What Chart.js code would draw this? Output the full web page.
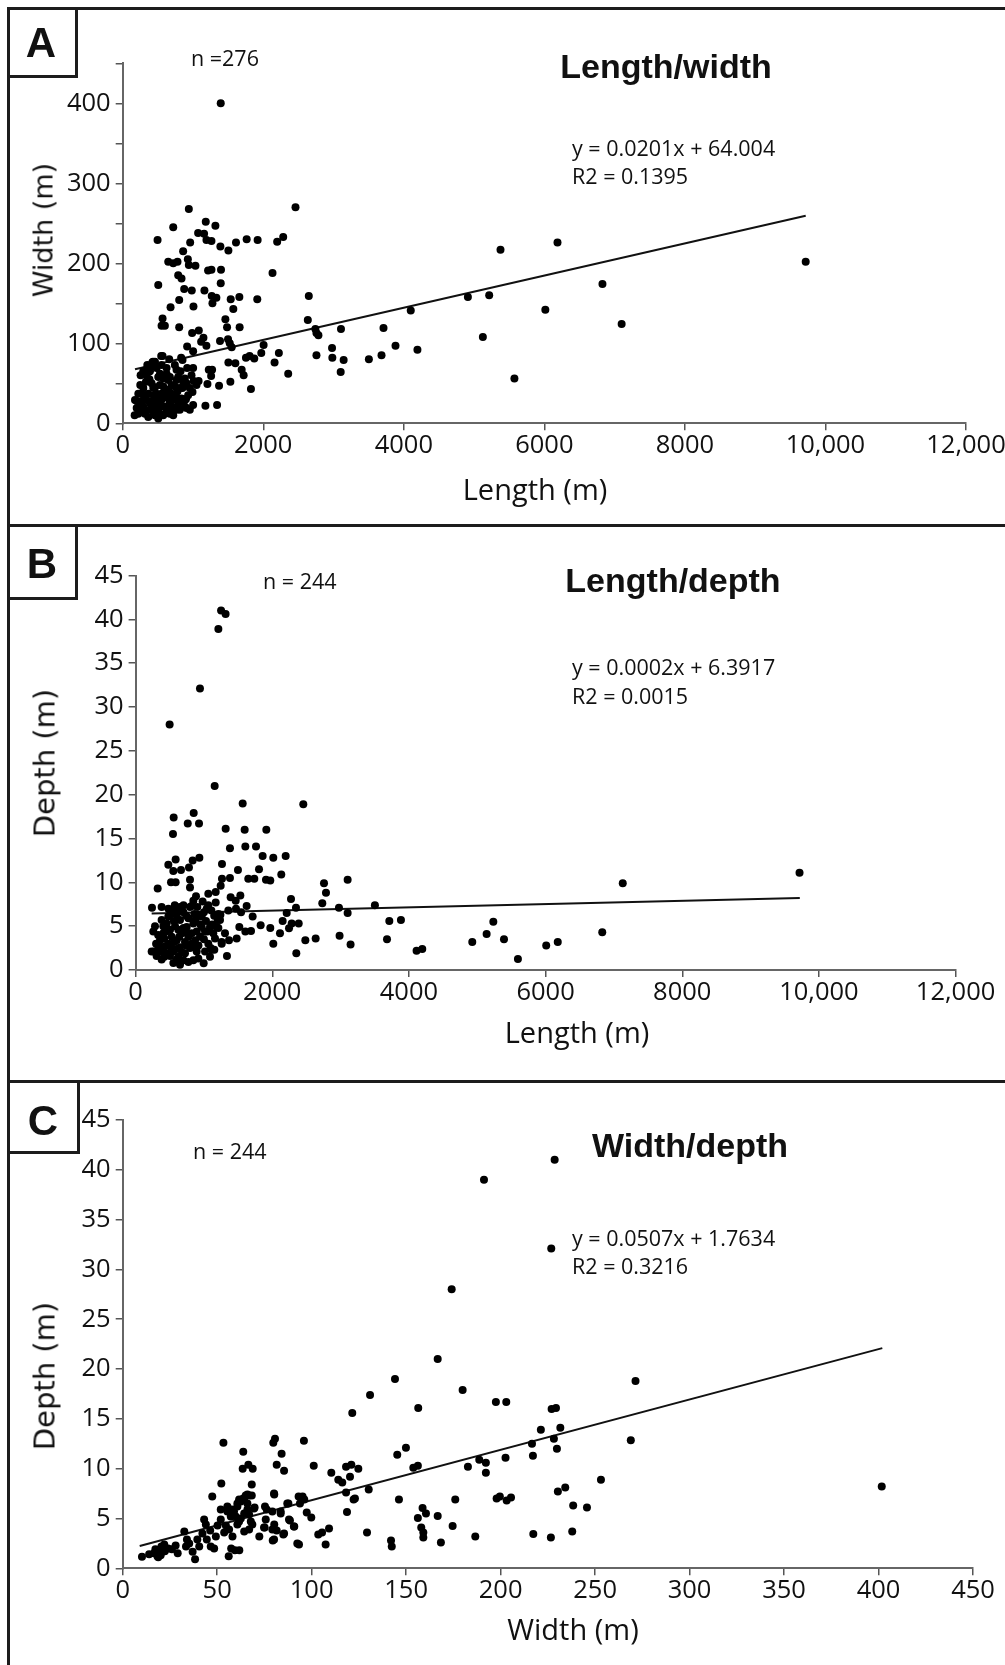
<!DOCTYPE html>
<html>
<head>
<meta charset="utf-8">
<script src="https://cdn.jsdelivr.net/npm/chart.js@4.4.1/dist/chart.umd.min.js"></script>
<style>
body { margin: 0; background: #fff; }
#fig { position: relative; width: 1005px; height: 1665px; overflow: hidden; background: #fff; }
canvas { position: absolute; left: 0; }
.t { position: absolute; white-space: nowrap; color: #111; line-height: 1; }
.c { transform: translate(-50%, -50%); }
.l { transform: translateY(-50%); }
.rot { transform: translate(-50%, -50%) rotate(-90deg); font-family: "DejaVu Sans"; font-size: 28px; }
.ttl { font-family: "Liberation Sans", Arial; font-weight: bold; font-size: 34px; }
.xt { font-family: "Open Sans"; font-size: 29px; }
.note { font-family: "Open Sans"; font-size: 21.5px; }
.let { font-family: "Liberation Sans", Arial; font-weight: bold; font-size: 42px; }
.ln { position: absolute; background: #1c1c1c; }
</style>
</head>
<body>
<div id="fig">
  <canvas id="cA" width="1005" height="526" style="top:0"></canvas>
  <canvas id="cB" width="1005" height="556" style="top:526px"></canvas>
  <canvas id="cC" width="1005" height="583" style="top:1082px"></canvas>

  <!-- frame and separators -->
  <div class="ln" style="left:7px;top:7px;width:998px;height:3px"></div>
  <div class="ln" style="left:7px;top:7px;width:3px;height:1658px"></div>
  <div class="ln" style="left:7px;top:524px;width:998px;height:3px"></div>
  <div class="ln" style="left:7px;top:1080px;width:998px;height:3px"></div>
  <!-- letter boxes -->
  <div class="ln" style="left:75px;top:7px;width:3px;height:71px"></div>
  <div class="ln" style="left:7px;top:75px;width:71px;height:3px"></div>
  <div class="ln" style="left:75px;top:524px;width:3px;height:76px"></div>
  <div class="ln" style="left:7px;top:597px;width:71px;height:3px"></div>
  <div class="ln" style="left:77px;top:1080px;width:3px;height:74px"></div>
  <div class="ln" style="left:7px;top:1151px;width:73px;height:3px"></div>

  <div class="t c let" style="left:41px;top:43px">A</div>
  <div class="t c let" style="left:42px;top:564px">B</div>
  <div class="t c let" style="left:43px;top:1121px">C</div>

  <!-- panel A texts -->
  <div class="t l note" style="left:191px;top:58px">n =276</div>
  <div class="t c ttl" style="left:666px;top:66px">Length/width</div>
  <div class="t l note" style="left:572px;top:148px">y = 0.0201x + 64.004</div>
  <div class="t l note" style="left:572px;top:176px">R2 = 0.1395</div>
  <div class="t c xt" style="left:535px;top:488px">Length (m)</div>
  <div class="t rot" style="left:43px;top:230px;font-size:27px">Width (m)</div>

  <!-- panel B texts -->
  <div class="t l note" style="left:263px;top:581px">n = 244</div>
  <div class="t c ttl" style="left:673px;top:580px">Length/depth</div>
  <div class="t l note" style="left:572px;top:667px">y = 0.0002x + 6.3917</div>
  <div class="t l note" style="left:572px;top:696px">R2 = 0.0015</div>
  <div class="t c xt" style="left:577px;top:1031px">Length (m)</div>
  <div class="t rot" style="left:45px;top:763px;font-size:29px">Depth (m)</div>

  <!-- panel C texts -->
  <div class="t l note" style="left:193px;top:1151px">n = 244</div>
  <div class="t c ttl" style="left:690px;top:1145px">Width/depth</div>
  <div class="t l note" style="left:572px;top:1238px">y = 0.0507x + 1.7634</div>
  <div class="t l note" style="left:572px;top:1266px">R2 = 0.3216</div>
  <div class="t c xt" style="left:573px;top:1628px">Width (m)</div>
  <div class="t rot" style="left:45px;top:1376px;font-size:29px">Depth (m)</div>
</div>

<script>
'use strict'

// A: length (m) vs width (m)
var ptsA = [
  [1395,400],[941,268],[2459,270],[1182,252],[1319,247],[719,245],[1073,238],[1158,237],[1192,229],[1263,228],
  [496,229],[960,226],[1390,221],[1504,216],[1612,226],[1764,230],[1920,229],[2198,227],[2284,233],[5376,217],
  [860,215],[648,202],[719,200],[780,202],[927,205],[941,198],[1035,197],[1215,191],[1263,192],[1399,192],
  [2132,188],[790,185],[837,181],[1395,175],[506,173],[875,168],[983,166],[1163,166],[1267,159],[1333,157],
  [1277,150],[1537,155],[1660,158],[1915,155],[2648,159],[4912,158],[5215,160],[804,154],[681,145],[1007,146],
  [1574,143],[4099,141],[567,131],[553,122],[600,122],[804,120],[1461,130],[1485,120],[1664,120],[2634,129],
  [988,113],[1083,116],[1149,107],[1385,103],[1499,105],[1523,100],[1551,95],[2742,118],[2785,110],[2757,113],
  [3106,118],[3711,119],[5125,108],[917,96],[1002,90],[1191,97],[2005,98],[1972,88],[2222,88],[2979,94],
  [3882,97],[4194,92],[2757,85],[2983,82],[3144,79],[3503,80],[3683,85],[1754,82],[1806,84],[1872,81],
  [1504,76],[1603,75],[2161,76],[567,84],[662,80],[1693,67],[1225,67],[1272,67],[1258,59],[1721,60],
  [2355,62],[3102,64],[1532,52],[1371,47],[1206,49],[1825,43],[5574,56],[1177,22],[1343,23],[9719,202],
  [7100,124],[6827,174],[6014,142],[6187,226],[832,82],[1116,102],[1010,53],[1080,53],
  [170,10],[199,19],[293,21],[270,37],[331,52],[350,73],[421,76],[255,60],[388,65],[482,69],
  [530,62],[624,69],[766,67],[851,79],[823,65],[917,69],[1002,69],[979,60],[1050,48],[993,39],
  [908,50],[808,44],[742,35],[671,27],[884,21],[813,17],[719,19],[530,12],[435,15],[388,25],
  [482,37],[577,46],[435,44],[648,54],[530,48],[340,29],[600,21],[482,19],[317,12],[695,37],
  [766,54],[600,33],[790,25],[388,17],[246,27],[222,12],[530,29],[411,50],[293,44],[364,37],
  [506,58],[577,56],[671,58],[860,52],[931,35],[742,46],[671,12],[766,17],[459,10],[553,21],
  [648,42],[340,60],[293,65],[837,31],[482,25],[577,10],[719,10],[908,19],[1002,23],[955,17],
  [175,29],[222,37],[411,21],[624,17],[293,17],[364,8],[506,6],[435,29],[553,37],[695,48],
  [624,62],[553,73],[459,77],[742,73],[884,56],[790,58],[955,44],[766,33],[860,27],[217,18],
  [430,77],[407,72],[312,66],[548,84],[250,48],[300,30],[380,55],[460,45],[520,22],[560,30],
  [620,40],[690,22],[720,30],[780,40],[850,44],[900,30],[200,28],[450,35],[650,32]
];
var trendA = [[175,67.5],[9719,259.4]];

// B: length (m) vs depth (m)
var ptsB = [
  [1251,41.0],[1317,40.6],[1211,38.9],[942,32.1],[498,28.0],[1157,21.0],[1567,19.0],[2454,18.9],[850,17.9],[557,17.4],
  [763,16.7],[928,16.7],[1318,16.1],[1596,16.0],[1913,16.0],[547,15.5],[1381,13.9],[1606,14.1],[1762,14.1],[1859,13.0],
  [2015,12.8],[2196,13.0],[586,12.6],[835,12.5],[933,12.8],[479,12.0],[781,11.7],[1264,12.1],[552,11.3],[664,11.4],
  [1498,11.4],[1806,11.5],[2132,10.9],[518,10.0],[586,10.0],[796,10.3],[796,9.4],[1381,10.5],[1649,10.4],[1737,10.4],
  [1908,10.3],[1971,10.2],[2757,9.9],[2786,8.8],[3103,10.3],[323,9.3],[884,8.4],[1064,8.7],[1172,8.9],[1245,9.6],
  [1264,10.4],[1391,8.3],[1465,7.9],[1533,8.5],[2274,8.1],[981,7.8],[1172,7.7],[1625,7.3],[2732,7.6],[2347,7.1],
  [2976,7.1],[3502,7.4],[3103,6.5],[2211,6.5],[240,7.1],[381,7.2],[573,7.4],[601,6.8],[650,7.2],[820,7.3],
  [903,7.2],[1357,6.8],[1469,7.0],[1543,6.6],[1713,6.1],[2284,5.3],[2387,5.3],[2152,5.6],[3713,5.6],[3883,5.7],
  [5235,5.5],[1830,5.1],[1971,4.8],[1518,4.9],[2113,4.2],[2245,4.75],[5137,4.1],[4927,3.2],[5391,3.5],[3679,3.5],
  [2985,3.9],[3146,2.9],[2635,3.6],[2484,3.4],[2015,3.0],[1606,4.4],[1689,4.45],[1479,3.6],[1367,3.4],[1259,3.2],
  [2352,1.9],[1337,1.6],[4112,2.2],[4195,2.4],[5595,1.25],[996,0.76],[1098,2.5],[1152,2.3],[1016,2.1],[9716,11.1],
  [7129,9.9],[6829,4.3],[6178,3.2],[6009,2.8],[1064,7.4],[845,7.9],[1201,5.7],[1187,4.9],[1308,4.2],[1241,6.3],
  [1109,6.8],[1050,4.4],
  [259,4.4],[235,2.1],[308,1.6],[381,1.2],[406,2.4],[406,4.2],[357,3.4],[455,5.3],[504,6.3],[553,6.9],
  [577,5.0],[528,3.8],[479,3.0],[455,1.9],[553,2.1],[626,1.5],[699,1.1],[772,0.9],[650,2.6],[723,3.2],
  [675,4.2],[650,5.7],[699,6.6],[796,7.2],[772,5.9],[845,5.3],[821,4.2],[870,3.4],[796,2.5],[894,2.1],
  [845,1.1],[943,3.8],[967,4.9],[967,6.1],[1040,7.0],[1089,4.9],[1064,3.0],[1113,2.3],[1162,3.6],[1211,4.8],
  [1235,5.7],[1211,6.4],[1260,3.0],[284,5.0],[333,2.7],[269,2.1],[430,2.7],[504,1.6],[601,3.4],[626,4.6],
  [406,5.0],[504,4.6],[723,1.9],[894,4.4],[918,6.3],[479,6.1],[381,5.7],[772,3.8],[748,4.9],[601,6.3],
  [675,7.1],[1016,4.4],[1137,4.2],[553,0.8],[918,1.3],[1089,1.5],[650,0.6],
  [330,4.0],[360,2.1],[420,3.6],[450,4.4],[520,2.6],[560,3.2],[600,2.4],[640,3.8],[680,2.0],[700,4.8],
  [740,2.8],[760,4.2],[820,3.0],[860,2.6],[880,5.8],[920,2.8],[950,5.2],[1000,3.5],[1030,5.6],[1120,5.2],
  [480,7.0],[700,7.4],[560,5.6],[300,3.0],[420,1.5],[600,1.2],[860,6.4],[1000,6.6],[740,6.2],[1150,6.2]
];
var trendB = [[235,6.44],[9720,8.2]];

// C: width (m) vs depth (m)
var ptsC = [
  [228.6,41.0],[191.2,39.0],[226.8,32.1],[174.1,28.0],[166.7,21.0],[271.4,18.8],[179.9,17.9],[197.5,16.7],[203.0,16.7],[156.4,16.1],
  [227.0,16.0],[229.3,16.1],[221.3,13.9],[231.6,14.1],[149.9,12.1],[268.9,12.85],[216.6,12.5],[217.1,11.3],[228.2,13.0],[229.8,12.0],
  [202.6,11.1],[153.8,10.1],[156.2,10.3],[182.7,10.2],[188.7,10.9],[192.2,10.6],[192.2,9.6],[253.1,8.9],[401.7,8.2],[234.2,8.1],
  [230.3,7.7],[197.9,7.0],[199.6,7.2],[203.2,6.8],[205.5,7.1],[176.0,6.9],[238.4,6.3],[245.7,6.1],[158.7,6.05],[160.5,5.5],
  [156.2,5.05],[166.7,5.25],[174.6,4.25],[158.0,4.1],[159.1,3.6],[159.1,3.1],[168.4,2.6],[186.6,3.2],[217.3,3.45],[226.6,3.1],
  [237.9,3.7],[144.1,19.0],[130.9,17.4],[121.5,15.6],[145.3,11.4],
  [53.3,12.6],[79.7,12.6],[80.6,13.0],[95.9,12.8],[63.8,11.7],[84.1,11.5],[63.5,10.0],[66.5,10.4],[68.8,10.0],[81.5,10.4],
  [85.4,9.8],[101.1,10.3],[110.4,9.6],[114.1,8.9],[116.2,8.6],[118.2,10.2],[121.0,10.4],[124.7,10.0],[120.3,9.2],[52.2,8.5],
  [68.3,8.4],[146.2,6.9],[130.2,7.9],[122.2,6.9],[122.9,7.0],[118.2,7.6],[80.2,7.4],[47.4,7.2],[95.2,7.2],[96.1,6.9],
  [75.3,6.2],[76.2,5.9],[69.8,6.1],[66.0,5.9],[61.6,6.9],[63.8,7.0],[66.0,7.4],[68.3,7.3],[60.7,6.5],[55.4,6.2],
  [57.7,5.9],[87.7,6.5],[93.1,7.2],[93.8,6.5],[97.4,5.6],[99.8,5.1],[83.6,5.5],[88.5,4.8],[90.8,4.2],[93.3,2.4],
  [75.1,4.1],[80.2,4.4],[81.5,3.8],[85.0,3.4],[72.3,3.2],[79.4,2.8],[103.5,3.4],[105.5,3.6],[107.4,2.4],[109.2,4.0],
  [118.7,5.65],[129.3,3.6],[142.0,2.8],[142.4,2.2],[56.1,1.2],[59.4,1.8],[61.7,1.8],
  [10.2,1.17],[16.6,1.5],[18.4,1.2],[20.1,1.3],[22.3,1.7],[24.0,2.0],[17.3,1.9],[20.5,2.2],[18.8,1.1],[29.1,1.5],
  [33.5,2.2],[34.0,2.9],[32.6,3.7],[37.0,1.67],[38.3,0.9],[35.2,2.5],[39.5,2.9],[42.2,3.5],[40.5,2.2],[43.1,4.9],
  [44.0,4.4],[44.5,2.9],[46.6,2.2],[48.4,2.0],[46.3,3.8],[50.2,4.3],[51.9,4.9],[49.3,3.2],[53.7,3.6],[56.3,3.9],
  [54.6,4.3],[58.1,3.2],[55.4,5.7],[57.2,5.2],[58.9,5.7],[59.8,5.2],[51.9,5.9],[60.7,6.2],[62.5,6.7],[64.3,7.0],
  [66.9,7.3],[65.1,7.3],[66.0,6.5],[57.4,2.0],[60.7,4.4],[62.5,5.0],[64.3,5.5],[66.9,5.4],[67.8,4.7],[68.6,4.4],
  [66.9,3.9],[61.6,4.7],[64.3,3.7],[69.5,6.0],[74.8,4.1],[80.1,2.9],[79.2,3.9],[75.7,4.9],[79.2,5.7],[80.1,7.5],
  [83.6,5.7],[85.4,3.5],[87.1,6.5],[88.0,4.9],[90.6,4.2],[92.4,2.5],[22,2.4],[26,1.9],[28,2.3],[14,1.4],[19,1.6]
];
var trendC = [[9,2.24],[402,22.1]];

// tick labels
var xTicksLen = ['0','2000','4000','6000','8000','10,000','12,000'];
var yTicksWidth = ['0','','100','','200','','300','','400',''];
var yTicksDepth = ['0','5','10','15','20','25','30','35','40','45'];
var xTicksWidth = ['0','50','100','150','200','250','300','350','400','450'];

var tickFont = { family: 'Open Sans', size: 25.5 };
var Y_W = 60;

function drawPanel(id, pts, trend, sx, sy, area) {
	var canvas = document.getElementById(id);
	var h = canvas.height;
	return new Chart(canvas, {
		type: 'scatter',
		data: {
			datasets: [
				{
					data: pts.map(function (p) { return { x: p[0], y: p[1] }; }),
					backgroundColor: '#000',
					borderWidth: 0,
					pointRadius: 4
				},
				{
					data: trend.map(function (p) { return { x: p[0], y: p[1] }; }),
					showLine: true,
					borderColor: '#111',
					borderWidth: 2,
					pointRadius: 0
				}
			]
		},
		options: {
			responsive: false,
			animation: false,
			devicePixelRatio: 1,
			layout: { padding: { left: area.left - Y_W, right: 1005 - area.right, top: area.top, bottom: 0 } },
			plugins: { legend: { display: false }, tooltip: { enabled: false } },
			scales: {
				x: {
					type: 'linear', min: 0, max: sx.max,
					ticks: { stepSize: sx.step, autoSkip: false, maxRotation: 0, padding: 0, color: '#111', font: tickFont,
						callback: function (v, i) { return sx.labels[i]; } },
					grid: { drawOnChartArea: false, tickLength: 7, color: '#555', lineWidth: 1.5 },
					border: { color: '#666', width: 2 },
					afterFit: function (s) { s.height = h - area.bottom; s.paddingLeft = 0; s.paddingRight = 0; }
				},
				y: {
					type: 'linear', min: 0, max: sy.max,
					ticks: { stepSize: sy.step, autoSkip: false, padding: 5, color: '#111', font: tickFont,
						callback: function (v, i) { return sy.labels[i]; } },
					grid: { drawOnChartArea: false, tickLength: 7, color: '#555', lineWidth: 1.5 },
					border: { color: '#666', width: 2 },
					afterFit: function (s) { s.width = Y_W; s.paddingTop = 0; s.paddingBottom = 0; }
				}
			}
		}
	});
}

drawPanel('cA', ptsA, trendA,
	{ max: 12000, step: 2000, labels: xTicksLen },
	{ max: 450, step: 50, labels: yTicksWidth },
	{ left: 122.7, right: 966, top: 63.3, bottom: 423.3 });

drawPanel('cB', ptsB, trendB,
	{ max: 12000, step: 2000, labels: xTicksLen },
	{ max: 45, step: 5, labels: yTicksDepth },
	{ left: 135.6, right: 955.6, top: 49.5, bottom: 444 });

drawPanel('cC', ptsC, trendC,
	{ max: 450, step: 50, labels: xTicksWidth },
	{ max: 45, step: 5, labels: yTicksDepth },
	{ left: 122.7, right: 973, top: 38, bottom: 486.3 });
</script>
</body>
</html>
